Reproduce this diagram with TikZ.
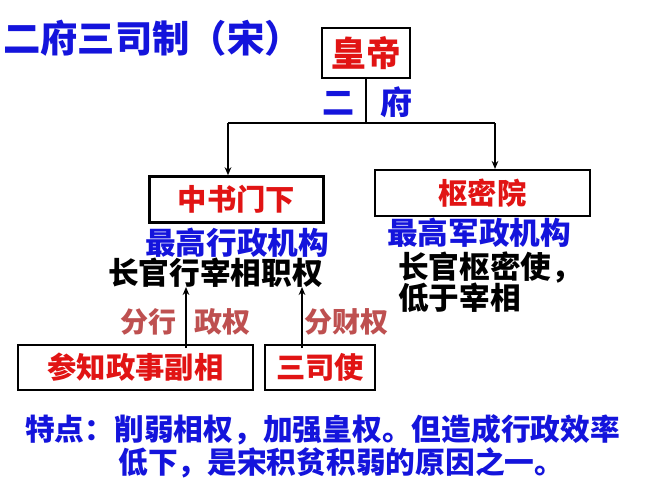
\documentclass[tikz,border=0pt]{standalone}
\usepackage{fontspec}
\usetikzlibrary{arrows.meta}
\setmainfont{Noto Sans CJK SC}
\begin{document}
\begin{tikzpicture}[x=0.75pt,y=-0.75pt,
  every node/.append style={font=\bfseries},
  box/.style={draw=black,line width=1.6pt,inner sep=0pt},
  txt/.style={inner sep=0pt,anchor=west},
  conn/.style={line width=1.5pt,-{Stealth[length=6pt,width=5pt]}}]
\definecolor{tb}{RGB}{20,20,220}
\definecolor{tr}{RGB}{225,20,20}
\definecolor{tbr}{RGB}{190,80,80}
\useasboundingbox (0,0) rectangle (667,500);
\fill[white] (0,0) rectangle (667,500);
\node[txt,text=tb,font=\bfseries\fontsize{28}{30}\selectfont] (title) at (3,38) {二府三司制（宋）};
\node[box,minimum width=66pt,minimum height=37.5pt,text=tr,font=\bfseries\fontsize{26}{28}\selectfont] (emp) at (366,53) {皇帝};
\node[txt,text=tb,font=\bfseries\fontsize{24}{26}\selectfont] (er) at (322,102) {二\hspace{20pt}府};
\coordinate (j) at (366,123);
\coordinate (jl) at (228,123);
\coordinate (jr) at (495,123);
\node[box,line width=2.4pt,minimum width=130pt,minimum height=34pt,text=tr,font=\bfseries\fontsize{22}{24}\selectfont] (zs) at (236.5,199.5) {中书门下};
\node[box,minimum width=161pt,minimum height=34.5pt,text=tr,font=\bfseries\fontsize{22}{24}\selectfont] (sm) at (482.5,193) {枢密院};
\draw[line width=1.5pt] (emp.south) -- (j) -- (jl) (j) -- (jr);
\draw[conn] (jl) -- (jl |- zs.north);
\draw[conn] (jr) -- (jr |- sm.north);
\node[txt,text=tb,font=\bfseries\fontsize{23}{25}\selectfont] (t1) at (145,243) {最高行政机构};
\node[txt,font=\bfseries\fontsize{23}{25}\selectfont] (t2) at (108,273) {长官行宰相职权};
\node[txt,text=tb,font=\bfseries\fontsize{23}{25}\selectfont] (t3) at (387,233) {最高军政机构};
\node[txt,font=\bfseries\fontsize{23}{25}\selectfont] (t4) at (398,268) {长官枢密使，};
\node[txt,font=\bfseries\fontsize{23}{25}\selectfont] (t5) at (398,298) {低于宰相};
\node[txt,text=tbr,font=\bfseries\fontsize{21}{23}\selectfont] (l1) at (120,322) {分行};
\node[txt,text=tbr,font=\bfseries\fontsize{21}{23}\selectfont] (l2) at (194,322) {政权};
\node[txt,text=tbr,font=\bfseries\fontsize{21}{23}\selectfont] (l3) at (304,322) {分财权};
\node[box,minimum width=176pt,minimum height=34pt,text=tr,font=\bfseries\fontsize{22}{24}\selectfont] (cz) at (135.5,367.5) {参知政事副相};
\node[box,minimum width=82.5pt,minimum height=34pt,text=tr,font=\bfseries\fontsize{22}{24}\selectfont] (ss) at (320,367.5) {三司使};
\draw[conn] (186,348) -- (186,287);
\draw[conn] (302,348) -- (302,287);
\node[txt,text=tb,font=\bfseries\fontsize{22.3}{25}\selectfont] (b1) at (25,430) {特点：削弱相权，加强皇权。但造成行政效率};
\node[txt,text=tb,font=\bfseries\fontsize{22.3}{25}\selectfont] (b2) at (118,463) {低下，是宋积贫积弱的原因之一。};
\end{tikzpicture}
\end{document}
